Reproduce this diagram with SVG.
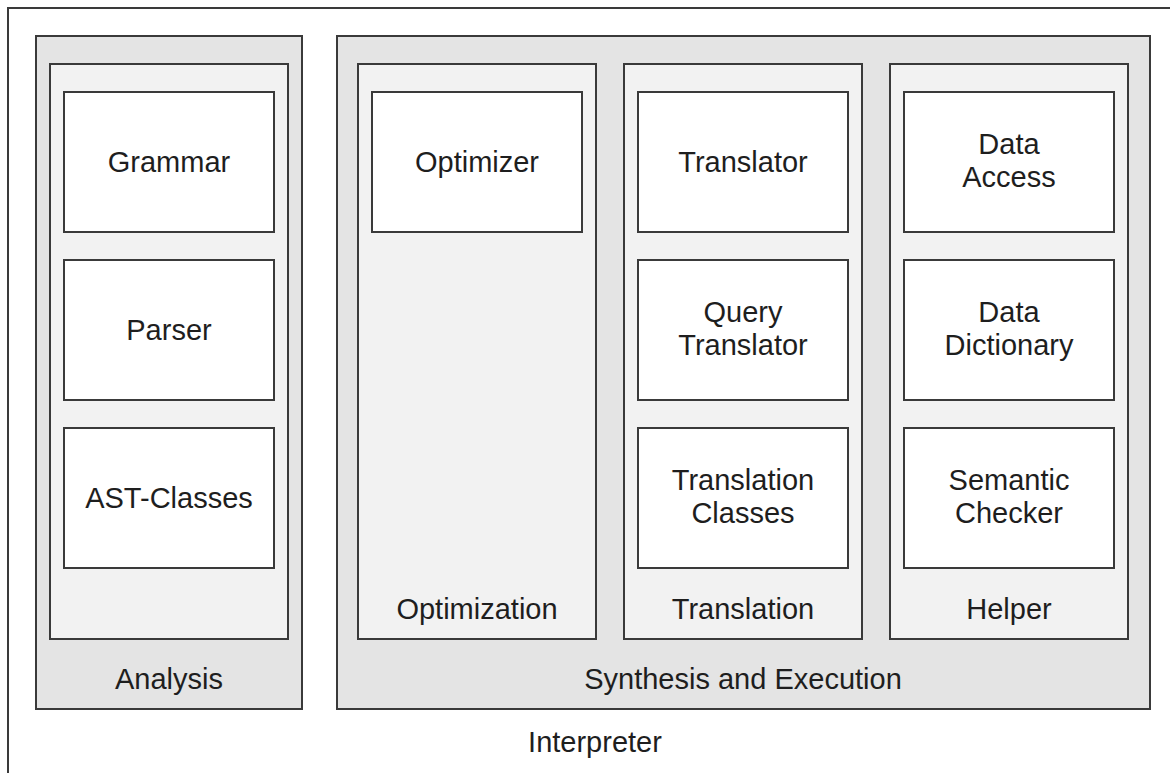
<svg xmlns="http://www.w3.org/2000/svg" width="1170" height="773" viewBox="0 0 1170 773">
  <style>
    .frame { fill: #ffffff; stroke: #3a3a3a; stroke-width: 2; }
    .outer { fill: #e4e4e4; stroke: #3a3a3a; stroke-width: 2; }
    .inner { fill: #f2f2f2; stroke: #3a3a3a; stroke-width: 2; }
    .box { fill: #ffffff; stroke: #3a3a3a; stroke-width: 2; }
    text { font-family: "Liberation Sans", Arial, sans-serif; font-size: 29px; fill: #1e1e1e; text-anchor: middle; }
  </style>
  <rect width="1170" height="773" fill="#ffffff"/>

  <!-- Interpreter frame (continues past the page edge) -->
  <g id="interpreter">
    <rect class="frame" x="8" y="8" width="1174" height="800"/>
    <text x="595" y="752">Interpreter</text>
  </g>

  <!-- Analysis -->
  <g id="analysis">
    <rect class="outer" x="36" y="36" width="266" height="673"/>
    <rect class="inner" x="50" y="64" width="238" height="575"/>
    <text x="169" y="689">Analysis</text>
  </g>
  <g id="grammar">
    <rect class="box" x="64" y="92" width="210" height="140"/>
    <text x="169" y="172">Grammar</text>
  </g>
  <g id="parser">
    <rect class="box" x="64" y="260" width="210" height="140"/>
    <text x="169" y="340">Parser</text>
  </g>
  <g id="ast-classes">
    <rect class="box" x="64" y="428" width="210" height="140"/>
    <text x="169" y="508">AST-Classes</text>
  </g>

  <!-- Synthesis and Execution -->
  <g id="synthesis">
    <rect class="outer" x="337" y="36" width="813" height="673"/>
    <text x="743" y="689">Synthesis and Execution</text>
  </g>

  <g id="optimization">
    <rect class="inner" x="358" y="64" width="238" height="575"/>
    <text x="477" y="619">Optimization</text>
  </g>
  <g id="optimizer">
    <rect class="box" x="372" y="92" width="210" height="140"/>
    <text x="477" y="172">Optimizer</text>
  </g>

  <g id="translation">
    <rect class="inner" x="624" y="64" width="238" height="575"/>
    <text x="743" y="619">Translation</text>
  </g>
  <g id="translator">
    <rect class="box" x="638" y="92" width="210" height="140"/>
    <text x="743" y="172">Translator</text>
  </g>
  <g id="query-translator">
    <rect class="box" x="638" y="260" width="210" height="140"/>
    <text x="743" y="322">Query</text>
    <text x="743" y="355">Translator</text>
  </g>
  <g id="translation-classes">
    <rect class="box" x="638" y="428" width="210" height="140"/>
    <text x="743" y="490">Translation</text>
    <text x="743" y="523">Classes</text>
  </g>

  <g id="helper">
    <rect class="inner" x="890" y="64" width="238" height="575"/>
    <text x="1009" y="619">Helper</text>
  </g>
  <g id="data-access">
    <rect class="box" x="904" y="92" width="210" height="140"/>
    <text x="1009" y="154">Data</text>
    <text x="1009" y="187">Access</text>
  </g>
  <g id="data-dictionary">
    <rect class="box" x="904" y="260" width="210" height="140"/>
    <text x="1009" y="322">Data</text>
    <text x="1009" y="355">Dictionary</text>
  </g>
  <g id="semantic-checker">
    <rect class="box" x="904" y="428" width="210" height="140"/>
    <text x="1009" y="490">Semantic</text>
    <text x="1009" y="523">Checker</text>
  </g>

  <g id="connectors"></g>
</svg>
